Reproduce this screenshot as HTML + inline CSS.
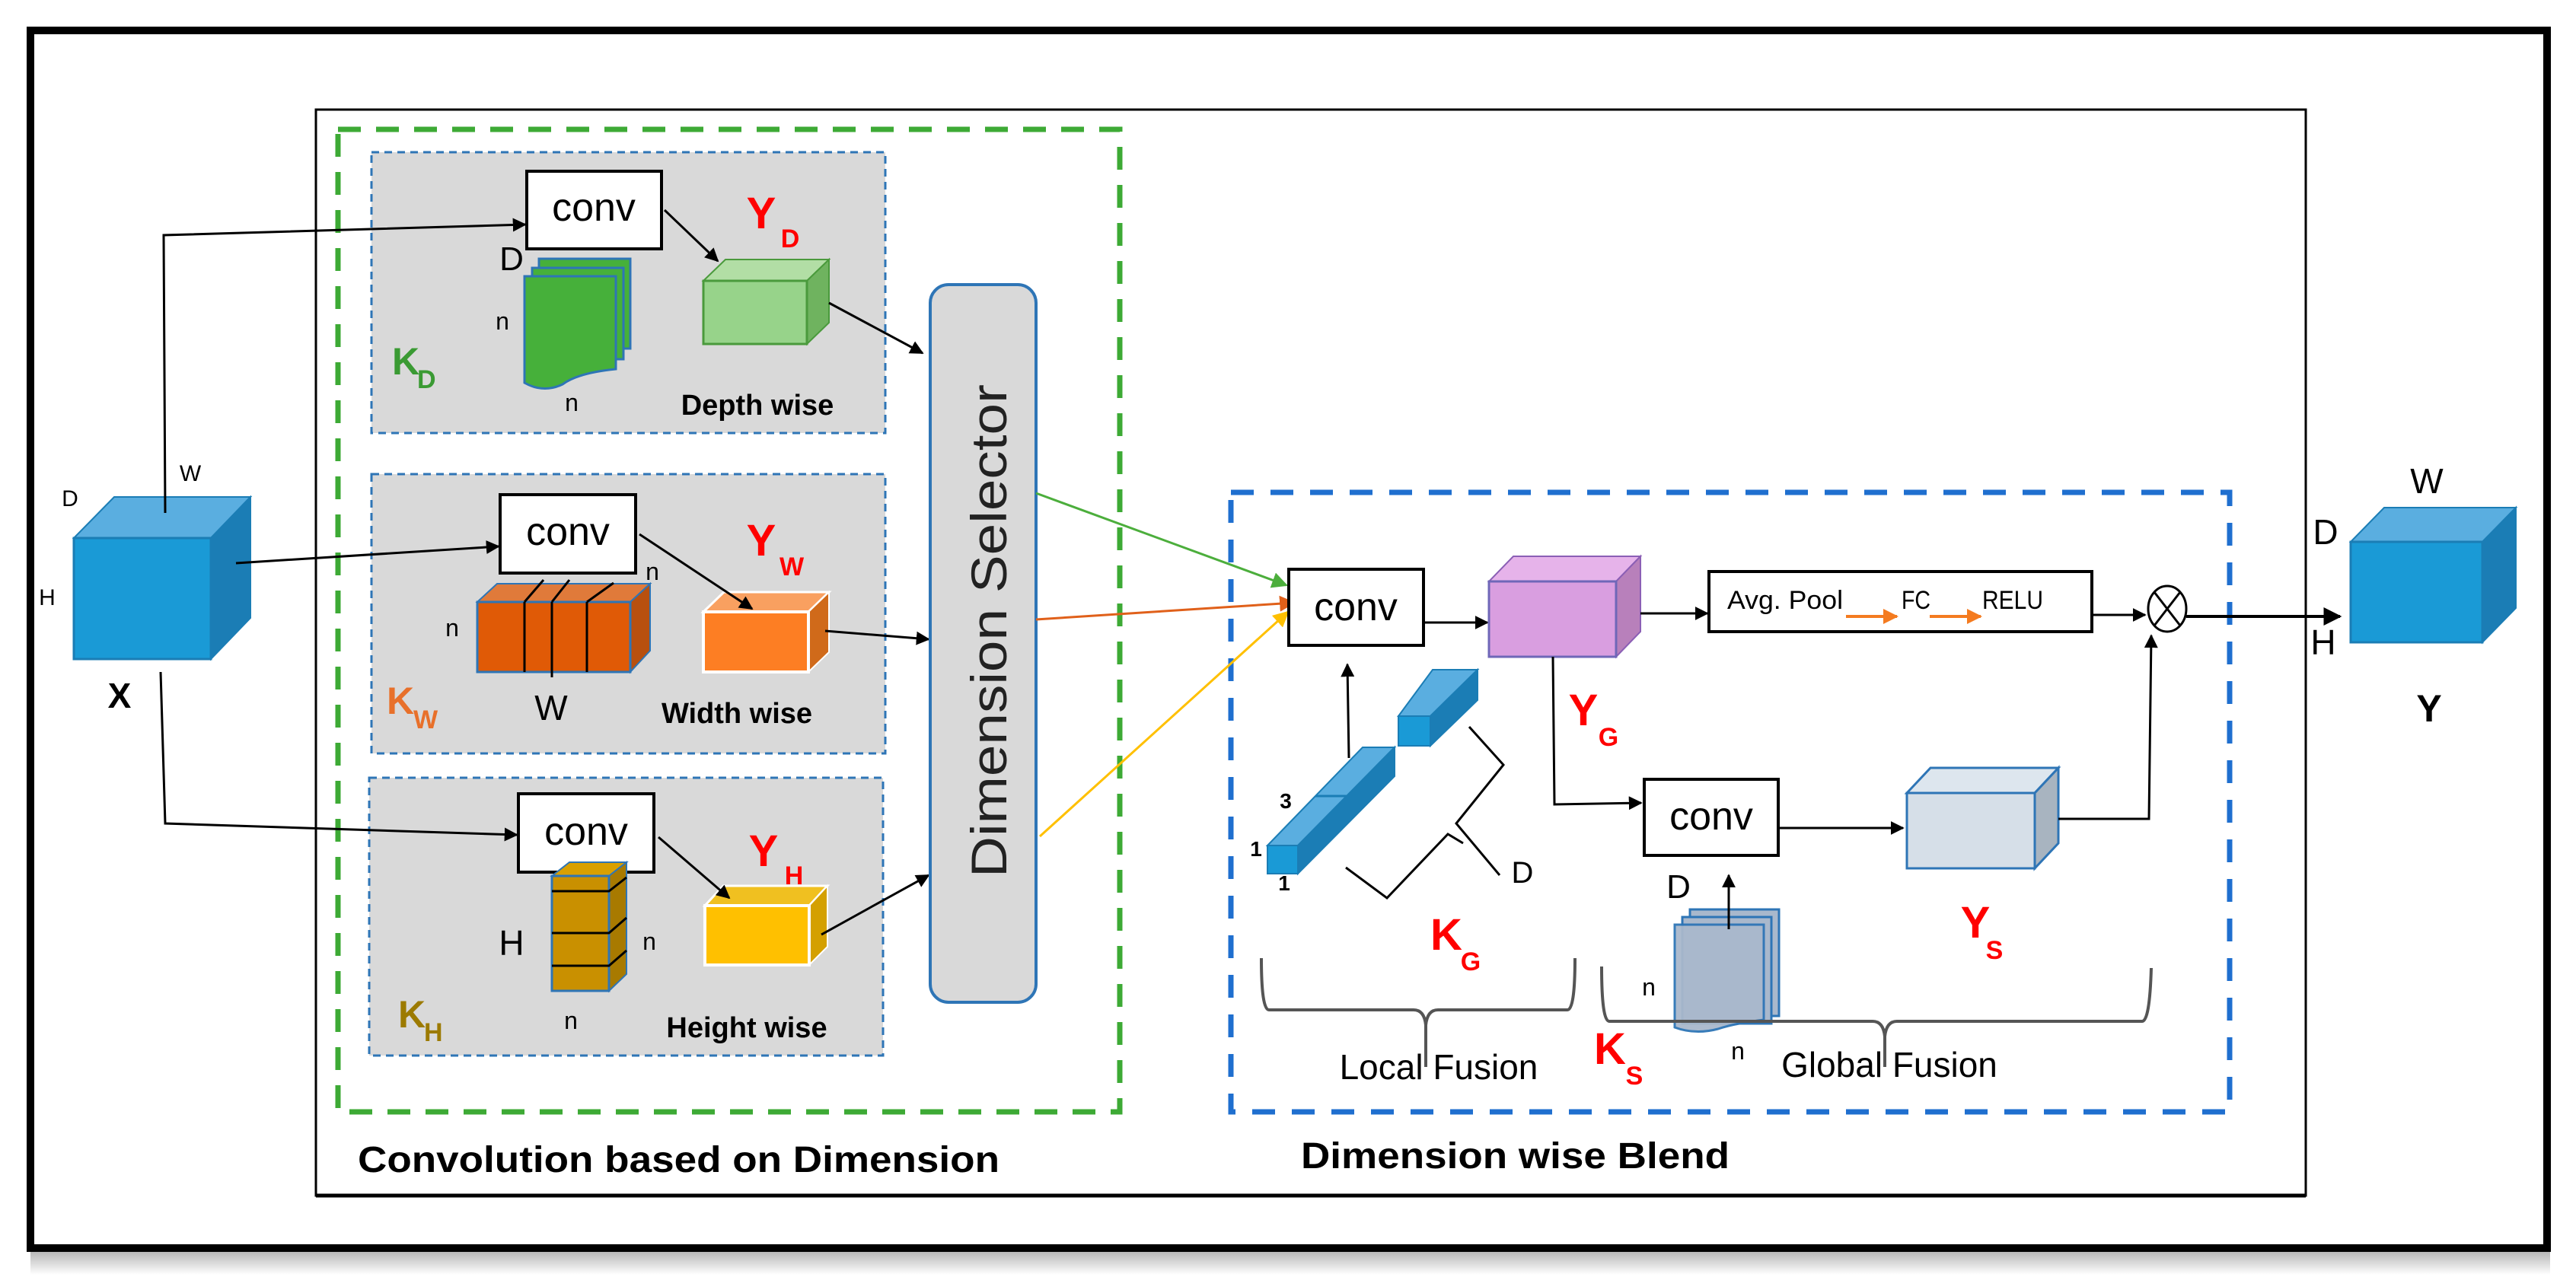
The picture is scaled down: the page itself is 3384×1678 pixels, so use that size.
<!DOCTYPE html>
<html><head><meta charset="utf-8"><style>
html,body{margin:0;padding:0;background:#fff;}
svg{display:block;font-family:"Liberation Sans",sans-serif;}
</style></head><body>
<svg width="3384" height="1678" viewBox="0 0 3384 1678" xmlns="http://www.w3.org/2000/svg">
<defs>
<marker id="ab" viewBox="0 0 10 10" refX="9" refY="5" markerWidth="6" markerHeight="6" orient="auto"><path d="M0,0 L10,5 L0,10 z" fill="#000"/></marker>
<marker id="ag" viewBox="0 0 10 10" refX="9" refY="5" markerWidth="7" markerHeight="7" orient="auto"><path d="M0,0 L10,5 L0,10 z" fill="#4cae3c"/></marker>
<marker id="ao" viewBox="0 0 10 10" refX="9" refY="5" markerWidth="7" markerHeight="7" orient="auto"><path d="M0,0 L10,5 L0,10 z" fill="#e0601a"/></marker>
<marker id="ay" viewBox="0 0 10 10" refX="9" refY="5" markerWidth="7" markerHeight="7" orient="auto"><path d="M0,0 L10,5 L0,10 z" fill="#ffc000"/></marker>
<marker id="ar" viewBox="0 0 10 10" refX="9" refY="5" markerWidth="5" markerHeight="5" orient="auto"><path d="M0,0 L10,5 L0,10 z" fill="#f47b20"/></marker>
<linearGradient id="sh" x1="0" y1="0" x2="0" y2="1"><stop offset="0" stop-color="#888"/><stop offset="1" stop-color="#fff"/></linearGradient>
</defs>
<rect x="0" y="0" width="3384" height="1678" fill="#fff"/>
<!-- shadow -->
<rect x="40" y="1645" width="3310" height="30" fill="url(#sh)" opacity="0.6"/>
<!-- outer border -->
<rect x="40" y="40" width="3306" height="1600" fill="none" stroke="#000" stroke-width="10"/>
<!-- inner rect -->
<rect x="415" y="144" width="2614" height="1427" fill="none" stroke="#000" stroke-width="3"/>
<line x1="415" y1="1571" x2="3029" y2="1571" stroke="#000" stroke-width="5"/>
<!-- green dashed -->
<rect x="444" y="170" width="1027" height="1291" fill="none" stroke="#3daa35" stroke-width="7" stroke-dasharray="30,20"/>
<!-- gray panels -->
<rect x="488" y="200" width="675" height="369" fill="#d9d9d9" stroke="#2e75b6" stroke-width="3" stroke-dasharray="10,7"/>
<rect x="488" y="623" width="675" height="367" fill="#d9d9d9" stroke="#2e75b6" stroke-width="3" stroke-dasharray="10,7"/>
<rect x="485" y="1022" width="675" height="365" fill="#d9d9d9" stroke="#2e75b6" stroke-width="3" stroke-dasharray="10,7"/>
<!-- blue dashed -->
<rect x="1617" y="647" width="1312" height="814" fill="none" stroke="#1f6fcf" stroke-width="7" stroke-dasharray="30,22"/>

<!-- X cube -->
<polygon points="97,707 150,653 329,653 277,707" fill="#5aaee0" stroke="#1b7db5" stroke-width="2"/>
<polygon points="277,707 329,653 329,812 277,866" fill="#1b7db5" stroke="#1b7db5" stroke-width="2"/>
<rect x="97" y="707" width="180" height="159" fill="#1a9ad6" stroke="#1b7db5" stroke-width="3"/>
<text x="157" y="930" font-size="46" font-weight="bold" text-anchor="middle">X</text>
<text x="92" y="665" font-size="30" text-anchor="middle">D</text>
<text x="250" y="632" font-size="30" text-anchor="middle">W</text>
<text x="62" y="795" font-size="30" text-anchor="middle">H</text>

<!-- lines from X -->
<polyline points="217,674 215,309 690,295" fill="none" stroke="#000" stroke-width="3" marker-end="url(#ab)"/>
<line x1="310" y1="740" x2="655" y2="718" stroke="#000" stroke-width="3" marker-end="url(#ab)"/>
<polyline points="211,883 217,1082 679,1097" fill="none" stroke="#000" stroke-width="3" marker-end="url(#ab)"/>

<!-- conv boxes left -->
<rect x="692" y="225" width="177" height="102" fill="#fff" stroke="#000" stroke-width="4"/>
<text x="780" y="290" font-size="52" text-anchor="middle">conv</text>
<rect x="657" y="650" width="178" height="103" fill="#fff" stroke="#000" stroke-width="4"/>
<text x="746" y="716" font-size="52" text-anchor="middle">conv</text>
<rect x="681" y="1043" width="178" height="103" fill="#fff" stroke="#000" stroke-width="4"/>
<text x="770" y="1110" font-size="52" text-anchor="middle">conv</text>

<!-- Panel 1 content -->
<text x="672" y="355" font-size="44" text-anchor="middle">D</text>
<path d="M708,340 h120 v118 h-120 z" fill="#46b03a" stroke="#2e75b6" stroke-width="3"/>
<path d="M699,352 h120 v120 h-120 z" fill="#46b03a" stroke="#2e75b6" stroke-width="3"/>
<path d="M689,363 h120 v122 q-50,5 -70,20 q-25,12 -50,-2 z" fill="#46b03a" stroke="#2e75b6" stroke-width="3"/>
<text x="660" y="433" font-size="32" text-anchor="middle">n</text>
<text x="751" y="540" font-size="32" text-anchor="middle">n</text>
<text x="515" y="492" font-size="50" font-weight="bold" fill="#3a9a33">K</text>
<text x="548" y="510" font-size="34" font-weight="bold" fill="#3a9a33">D</text>
<text x="1000" y="300" font-size="58" font-weight="bold" fill="#ff0000" text-anchor="middle">Y</text>
<text x="1038" y="325" font-size="34" font-weight="bold" fill="#ff0000" text-anchor="middle">D</text>
<polygon points="924,369 953,341 1089,341 1060,369" fill="#b2dea5" stroke="#4a9a3c" stroke-width="2"/>
<polygon points="1060,369 1089,341 1089,424 1060,452" fill="#6fb35f" stroke="#4a9a3c" stroke-width="2"/>
<rect x="924" y="369" width="136" height="83" fill="#97d38a" stroke="#4a9a3c" stroke-width="3"/>
<text x="995" y="545" font-size="38" font-weight="bold" text-anchor="middle">Depth wise</text>
<line x1="873" y1="276" x2="943" y2="343" stroke="#000" stroke-width="3" marker-end="url(#ab)"/>
<line x1="1089" y1="398" x2="1212" y2="464" stroke="#000" stroke-width="3" marker-end="url(#ab)"/>

<!-- Panel 2 content -->
<polygon points="627,791 653,767 854,767 828,791" fill="#e07a3a" stroke="#2e75b6" stroke-width="2"/>
<polygon points="828,791 854,767 854,855 828,883" fill="#b8500f" stroke="#2e75b6" stroke-width="2"/>
<rect x="627" y="791" width="201" height="92" fill="#e05a06" stroke="#2e75b6" stroke-width="3"/>
<line x1="689" y1="883" x2="689" y2="791" stroke="#000" stroke-width="3"/><line x1="689" y1="791" x2="714" y2="762" stroke="#000" stroke-width="3"/>
<line x1="725" y1="890" x2="725" y2="791" stroke="#000" stroke-width="3"/><line x1="725" y1="791" x2="748" y2="762" stroke="#000" stroke-width="3"/>
<line x1="771" y1="883" x2="771" y2="791" stroke="#000" stroke-width="3"/><line x1="771" y1="791" x2="806" y2="766" stroke="#000" stroke-width="3"/>
<text x="594" y="836" font-size="32" text-anchor="middle">n</text>
<text x="857" y="762" font-size="32" text-anchor="middle">n</text>
<text x="724" y="946" font-size="46" text-anchor="middle">W</text>
<text x="508" y="938" font-size="50" font-weight="bold" fill="#e8702a">K</text>
<text x="543" y="957" font-size="34" font-weight="bold" fill="#e8702a">W</text>
<text x="1000" y="730" font-size="58" font-weight="bold" fill="#ff0000" text-anchor="middle">Y</text>
<text x="1040" y="756" font-size="34" font-weight="bold" fill="#ff0000" text-anchor="middle">W</text>
<polygon points="924,804 951,778 1089,778 1062,804" fill="#f9a060" stroke="#fff" stroke-width="3"/>
<polygon points="1062,804 1089,778 1089,857 1062,883" fill="#d06a1a" stroke="#fff" stroke-width="2"/>
<rect x="924" y="804" width="138" height="79" fill="#fd7e23" stroke="#fff" stroke-width="4"/>
<text x="968" y="950" font-size="38" font-weight="bold" text-anchor="middle">Width wise</text>
<line x1="840" y1="702" x2="988" y2="800" stroke="#000" stroke-width="3" marker-end="url(#ab)"/>
<line x1="1084" y1="829" x2="1220" y2="840" stroke="#000" stroke-width="3" marker-end="url(#ab)"/>

<!-- Panel 3 content -->
<polygon points="725,1151 748,1133 823,1133 800,1151" fill="#d9a000" stroke="#2e75b6" stroke-width="2"/>
<polygon points="800,1151 823,1133 823,1280 800,1302" fill="#a87a00" stroke="#2e75b6" stroke-width="2"/>
<rect x="725" y="1151" width="75" height="151" fill="#c99000" stroke="#2e75b6" stroke-width="3"/>
<polyline points="725,1171 800,1171 823,1153" fill="none" stroke="#000" stroke-width="3"/>
<polyline points="725,1226 800,1226 823,1206" fill="none" stroke="#000" stroke-width="3"/>
<polyline points="725,1269 800,1269 823,1249" fill="none" stroke="#000" stroke-width="3"/>
<text x="672" y="1255" font-size="46" text-anchor="middle">H</text>
<text x="853" y="1248" font-size="32" text-anchor="middle">n</text>
<text x="750" y="1352" font-size="32" text-anchor="middle">n</text>
<text x="523" y="1350" font-size="50" font-weight="bold" fill="#9c7a00">K</text>
<text x="557" y="1368" font-size="34" font-weight="bold" fill="#9c7a00">H</text>
<text x="1003" y="1138" font-size="58" font-weight="bold" fill="#ff0000" text-anchor="middle">Y</text>
<text x="1043" y="1162" font-size="34" font-weight="bold" fill="#ff0000" text-anchor="middle">H</text>
<polygon points="926,1190 950,1164 1087,1164 1063,1190" fill="#f0c020" stroke="#fff" stroke-width="3"/>
<polygon points="1063,1190 1087,1164 1087,1244 1063,1268" fill="#d4a000" stroke="#fff" stroke-width="2"/>
<rect x="926" y="1190" width="137" height="78" fill="#ffc000" stroke="#fff" stroke-width="4"/>
<text x="981" y="1363" font-size="38" font-weight="bold" text-anchor="middle">Height wise</text>
<line x1="865" y1="1100" x2="958" y2="1180" stroke="#000" stroke-width="3" marker-end="url(#ab)"/>
<line x1="1079" y1="1228" x2="1220" y2="1150" stroke="#000" stroke-width="3" marker-end="url(#ab)"/>

<!-- Dimension selector -->
<rect x="1222" y="374" width="139" height="943" rx="24" fill="#d9d9d9" stroke="#2e75b6" stroke-width="4"/>
<text transform="translate(1322,1153) rotate(-90)" font-size="66" textLength="648" lengthAdjust="spacingAndGlyphs" fill="#222">Dimension Selector</text>

<!-- colored lines -->
<line x1="1361" y1="648" x2="1690" y2="769" stroke="#4cae3c" stroke-width="3" marker-end="url(#ag)"/>
<line x1="1361" y1="814" x2="1700" y2="792" stroke="#e0601a" stroke-width="3" marker-end="url(#ao)"/>
<line x1="1366" y1="1099" x2="1692" y2="804" stroke="#ffc000" stroke-width="3" marker-end="url(#ay)"/>

<!-- Right side -->
<rect x="1693" y="748" width="177" height="100" fill="#fff" stroke="#000" stroke-width="4"/>
<text x="1781" y="815" font-size="52" text-anchor="middle">conv</text>
<line x1="1870" y1="818" x2="1954" y2="818" stroke="#000" stroke-width="3" marker-end="url(#ab)"/>
<!-- magenta cube -->
<polygon points="1956,764 1988,731 2155,731 2123,764" fill="#e6b3ea" stroke="#8b5fb5" stroke-width="2"/>
<polygon points="2123,764 2155,731 2155,830 2123,863" fill="#b880bb" stroke="#8b5fb5" stroke-width="2"/>
<rect x="1956" y="764" width="167" height="99" fill="#d99ee0" stroke="#6f67b8" stroke-width="3"/>
<line x1="2155" y1="806" x2="2243" y2="806" stroke="#000" stroke-width="3" marker-end="url(#ab)"/>
<!-- avg pool box -->
<rect x="2245" y="751" width="503" height="79" fill="#fff" stroke="#000" stroke-width="4"/>
<text x="2269" y="800" font-size="34" textLength="152" lengthAdjust="spacingAndGlyphs">Avg. Pool</text>
<text x="2498" y="800" font-size="34" textLength="38" lengthAdjust="spacingAndGlyphs">FC</text>
<text x="2604" y="800" font-size="34" textLength="80" lengthAdjust="spacingAndGlyphs">RELU</text>
<line x1="2425" y1="810" x2="2492" y2="810" stroke="#f47b20" stroke-width="4" marker-end="url(#ar)"/>
<line x1="2535" y1="810" x2="2602" y2="810" stroke="#f47b20" stroke-width="4" marker-end="url(#ar)"/>
<line x1="2748" y1="808" x2="2818" y2="808" stroke="#000" stroke-width="3" marker-end="url(#ab)"/>
<!-- otimes -->
<ellipse cx="2847" cy="800" rx="25" ry="30" fill="#fff" stroke="#000" stroke-width="3"/>
<line x1="2830" y1="778" x2="2864" y2="822" stroke="#000" stroke-width="3"/>
<line x1="2864" y1="778" x2="2830" y2="822" stroke="#000" stroke-width="3"/>
<line x1="2872" y1="810" x2="3074" y2="810" stroke="#000" stroke-width="4" marker-end="url(#ab)"/>
<!-- Y cube -->
<polygon points="3088,712 3132,667 3305,667 3261,712" fill="#5aaee0" stroke="#1b7db5" stroke-width="2"/>
<polygon points="3261,712 3305,667 3305,799 3261,844" fill="#1b7db5" stroke="#1b7db5" stroke-width="2"/>
<rect x="3088" y="712" width="173" height="132" fill="#1a9ad6" stroke="#1b7db5" stroke-width="3"/>
<text x="3188" y="648" font-size="46" text-anchor="middle">W</text>
<text x="3055" y="715" font-size="46" text-anchor="middle">D</text>
<text x="3052" y="860" font-size="46" text-anchor="middle">H</text>
<text x="3191" y="948" font-size="50" font-weight="bold" text-anchor="middle">Y</text>

<!-- Yg path -->
<text x="2080" y="953" font-size="58" font-weight="bold" fill="#ff0000" text-anchor="middle">Y</text>
<text x="2113" y="980" font-size="34" font-weight="bold" fill="#ff0000" text-anchor="middle">G</text>
<polyline points="2040,863 2042,1057 2156,1055" fill="none" stroke="#000" stroke-width="3" marker-end="url(#ab)"/>
<rect x="2160" y="1024" width="176" height="100" fill="#fff" stroke="#000" stroke-width="4"/>
<text x="2248" y="1090" font-size="52" text-anchor="middle">conv</text>
<line x1="2336" y1="1088" x2="2500" y2="1088" stroke="#000" stroke-width="3" marker-end="url(#ab)"/>
<!-- Ys cube -->
<polygon points="2505,1042 2536,1009 2704,1009 2673,1042" fill="#dde6ee" stroke="#2e75b6" stroke-width="3"/>
<polygon points="2673,1042 2704,1009 2704,1108 2673,1141" fill="#a8b4c0" stroke="#2e75b6" stroke-width="3"/>
<rect x="2505" y="1042" width="168" height="99" fill="#d6dfe8" stroke="#2e75b6" stroke-width="3"/>
<polyline points="2704,1076 2823,1076 2826,835" fill="none" stroke="#000" stroke-width="3" marker-end="url(#ab)"/>
<text x="2595" y="1232" font-size="58" font-weight="bold" fill="#ff0000" text-anchor="middle">Y</text>
<text x="2620" y="1260" font-size="34" font-weight="bold" fill="#ff0000" text-anchor="middle">S</text>

<!-- Kg kernel -->
<line x1="1772" y1="996" x2="1770" y2="873" stroke="#000" stroke-width="3" marker-end="url(#ab)"/>
<polygon points="1837,941 1882,880 1941,880 1879,941" fill="#5aaee0" stroke="#1b7db5" stroke-width="2"/>
<polygon points="1879,941 1941,880 1941,920 1879,980" fill="#1b7db5" stroke="#1b7db5" stroke-width="2"/>
<rect x="1837" y="941" width="42" height="39" fill="#1a9ad6" stroke="#1b7db5" stroke-width="2"/>
<polygon points="1665,1111 1790,982 1832,982 1705,1111" fill="#5aaee0" stroke="#1b7db5" stroke-width="2"/>
<polygon points="1705,1111 1832,982 1832,1020 1705,1148" fill="#1b7db5" stroke="#1b7db5" stroke-width="2"/>
<line x1="1728" y1="1046" x2="1770" y2="1046" stroke="#1b7db5" stroke-width="3"/>
<rect x="1665" y="1111" width="40" height="37" fill="#1a9ad6" stroke="#1b7db5" stroke-width="2"/>
<text x="1689" y="1062" font-size="28" font-weight="bold" text-anchor="middle">3</text>
<text x="1650" y="1125" font-size="28" font-weight="bold" text-anchor="middle">1</text>
<text x="1687" y="1170" font-size="28" font-weight="bold" text-anchor="middle">1</text>
<polyline points="1930,955 1975,1005 1913,1082 1970,1150" fill="none" stroke="#000" stroke-width="3"/>
<polyline points="1768,1140 1822,1180 1902,1096 1922,1108" fill="none" stroke="#000" stroke-width="3"/>
<text x="2000" y="1160" font-size="40" text-anchor="middle">D</text>
<text x="1900" y="1248" font-size="58" font-weight="bold" fill="#ff0000" text-anchor="middle">K</text>
<text x="1932" y="1275" font-size="34" font-weight="bold" fill="#ff0000" text-anchor="middle">G</text>

<!-- Ks sheets -->
<text x="2205" y="1180" font-size="44" text-anchor="middle">D</text>
<path d="M2220,1195 h117 v140 h-117 z" fill="#a9b8cc" stroke="#2e75b6" stroke-width="3"/>
<path d="M2210,1205 h117 v140 h-117 z" fill="#a9b8cc" stroke="#2e75b6" stroke-width="3"/>
<path d="M2200,1215 h117 v125 q-40,5 -60,12 q-30,8 -57,-2 z" fill="#a9b8cc" stroke="#2e75b6" stroke-width="3" opacity="0.95"/>
<line x1="2271" y1="1221" x2="2271" y2="1150" stroke="#000" stroke-width="3" marker-end="url(#ab)"/>
<text x="2166" y="1308" font-size="32" text-anchor="middle">n</text>
<text x="2283" y="1392" font-size="32" text-anchor="middle">n</text>
<text x="2115" y="1398" font-size="58" font-weight="bold" fill="#ff0000" text-anchor="middle">K</text>
<text x="2147" y="1425" font-size="34" font-weight="bold" fill="#ff0000" text-anchor="middle">S</text>

<!-- braces -->
<path d="M1657,1259 q0,68 10,68 h190 q14,0 16,20 v55 M1873,1347 q2,-20 16,-20 h170 q10,0 10,-68" fill="none" stroke="#555" stroke-width="4"/>
<path d="M2104,1270 q0,72 10,72 h346 q14,0 16,20 v40 M2476,1362 q2,-20 16,-20 h322 q10,0 12,-70" fill="none" stroke="#555" stroke-width="4"/>
<text x="1890" y="1418" font-size="46" text-anchor="middle">Local Fusion</text>
<text x="2482" y="1415" font-size="46" text-anchor="middle">Global Fusion</text>

<!-- titles -->
<text x="470" y="1540" font-size="48" font-weight="bold" textLength="843" lengthAdjust="spacingAndGlyphs">Convolution based on Dimension</text>
<text x="1709" y="1535" font-size="48" font-weight="bold" textLength="563" lengthAdjust="spacingAndGlyphs">Dimension wise Blend</text>
</svg>
</body></html>
